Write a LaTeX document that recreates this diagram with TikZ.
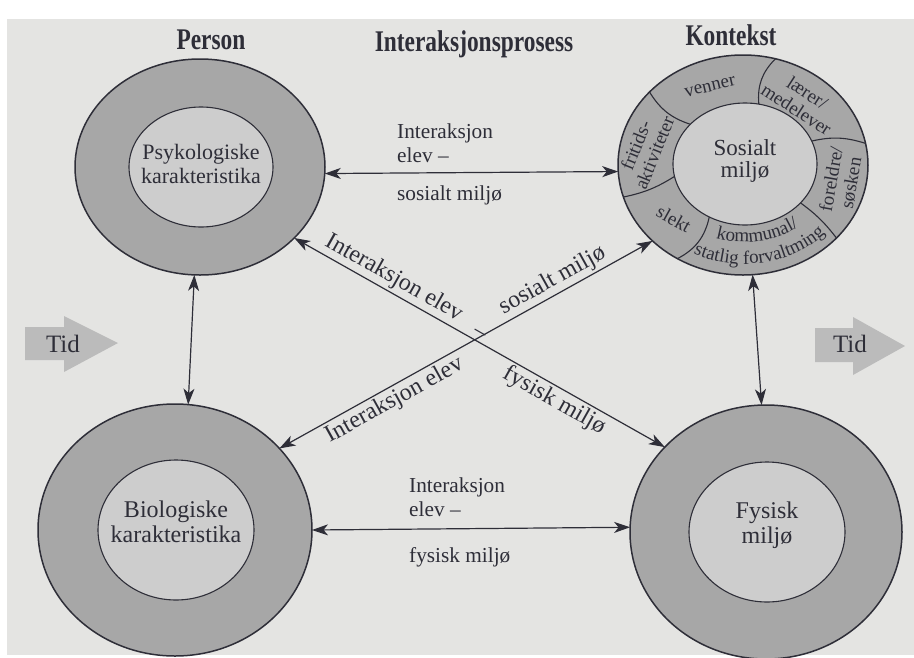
\documentclass[tikz,border=0pt]{standalone}
\usepackage{fontspec}
\setmainfont{Liberation Serif}
\newfontfamily\titlefont[FakeStretch=0.78]{Liberation Serif}
\usetikzlibrary{arrows.meta,shapes.geometric,decorations.text,calc}
\definecolor{pagebg}{HTML}{E4E4E2}
\definecolor{ring}{HTML}{A7A7A7}
\definecolor{core}{HTML}{CDCDCD}
\definecolor{ink}{HTML}{2E2E38}
\definecolor{tidgray}{HTML}{BBBBBB}
\newcommand\segsize{\fontsize{19}{20}\selectfont}
\begin{document}
\begin{tikzpicture}[x=1pt,y=-1pt,
  outerring/.style={ellipse, draw=ink, line width=1.5pt, fill=ring, inner sep=0pt, outer sep=0pt},
  innercore/.style={ellipse, draw=ink, line width=1.1pt, fill=core, inner sep=0pt, outer sep=0pt},
  conn/.style={draw=ink, line width=1.2pt, {Stealth[length=16pt,width=11pt,inset=4.5pt]}-{Stealth[length=16pt,width=11pt,inset=4.5pt]}},
  segline/.style={draw=ink, line width=1.1pt},
  maintext/.style={align=center, inner sep=0pt, text=ink},
  midtext/.style={align=left, inner sep=0pt, text=ink, font=\fontsize{21.3}{24}\selectfont},
  diagtext/.style={inner sep=2.5pt, text=ink, font=\fontsize{24}{26}\selectfont},
  seglbl/.style={align=center, inner sep=0pt, text=ink, font=\segsize},
  titletext/.style={inner sep=0pt, text=ink, anchor=base, font={\titlefont\bfseries\fontsize{30}{32}\selectfont}},
  tidtext/.style={inner sep=0pt, text=ink, anchor=base, font=\fontsize{25}{27}\selectfont},
  tidarrow/.style={fill=tidgray, draw=none}
]
\useasboundingbox (0,0) rectangle (914,657);
\fill[white] (0,0) rectangle (914,657);
\fill[pagebg] (7,19) rectangle (914,655);

% time arrows
\fill[tidarrow] (25,327) -- (64,327) -- (64,316) -- (118,343) -- (64,372) -- (64,360) -- (25,360) -- cycle;
\fill[tidarrow] (815,328) -- (853,328) -- (853,317) -- (905,346) -- (853,375) -- (853,362) -- (815,362) -- cycle;
\node[tidtext] (tidL) at (63,352) {Tid};
\node[tidtext] (tidR) at (850,352) {Tid};

% titles
\node[titletext] (tPerson) at (211,49.5) {Person};
\node[titletext] (tProc) at (474,51.5) {Interaksjonsprosess};
\node[titletext] (tKont) at (731,45.6) {Kontekst};

% circles
\node[outerring, minimum width=250pt, minimum height=216pt] (psyO) at (200,167) {};
\node[innercore, minimum width=144pt, minimum height=120pt] (psyI) at (201,167) {};
\node[outerring, minimum width=274pt, minimum height=252pt] (bioO) at (175,530) {};
\node[innercore, minimum width=156pt, minimum height=140pt] (bioI) at (176,530) {};
\node[outerring, minimum width=272pt, minimum height=254pt] (fysO) at (766,532) {};
\node[innercore, minimum width=156pt, minimum height=140pt] (fysI) at (767,532) {};
\node[outerring, minimum width=250pt, minimum height=220pt] (socO) at (743,165) {};
\coordinate (socC) at (744,165);

% segment dividers of the social ring (drawn before inner core)
\path (745,164) node[innercore, draw=none, fill=none, minimum width=144pt, minimum height=122pt] (socI) {};
\draw[segline] (socO.73.8) to[bend right=25] (socI.77.6);
\draw[segline] (socO.142.3) to[bend right=20] (socI.144.3);
\draw[segline] (socO.195.2) to[bend right=10] (socI.190.5);
\draw[segline] (socI.236.6) to[bend left=25] (socO.235.9);
\draw[segline] (socI.325.7) to[bend left=8] (socO.322.2);
\draw[segline] (socI.19.4) to[bend left=15] (socO.10.4);
\node[innercore, minimum width=144pt, minimum height=122pt] (socCore) at (745,164) {};

% segment labels
\node[seglbl, rotate=13] (lVenner) at (710,87) {venner};
\node[seglbl, rotate=-33] (lLaerer) at (802,101) {lærer/\\medelever};
\node[seglbl, rotate=68] (lFrit) at (645,149) {fritids-\\aktiviteter};
\node[seglbl, rotate=80] (lForel) at (841,181) {foreldre/\\søsken};
\node[seglbl, rotate=-29] (lSlekt) at (674,219) {slekt};
\path[decorate, decoration={text along path, text align=center,
   text={|\segsize\color{ink}|kommunal/}}]
  ($(socC)+(235:91pt and 77pt)$) arc[start angle=235, end angle=325, x radius=91pt, y radius=77pt];
\path[decorate, decoration={text along path, text align=center,
   text={|\segsize\color{ink}|statlig forvaltming}}]
  ($(socC)+(233:113pt and 99pt)$) arc[start angle=233, end angle=327, x radius=113pt, y radius=99pt];

% core texts
\node[maintext, font=\fontsize{22}{23.5}\selectfont] (psyT) at (201,164) {Psykologiske\\karakteristika};
\node[maintext, font=\fontsize{24}{25}\selectfont] (bioT) at (176,522) {Biologiske\\karakteristika};
\node[maintext, font=\fontsize{24}{25}\selectfont] (fysT) at (767,525) {Fysisk\\miljø};
\node[maintext, font=\fontsize{23}{22}\selectfont] (socT) at (745,160.6) {Sosialt\\miljø};

% horizontal interaction labels
\node[midtext, anchor=north west] (upA) at (397,123.5) {Interaksjon\\elev –};
\node[midtext, anchor=base west] (upB) at (397,200) {sosialt miljø};
\node[midtext, anchor=north west] (loA) at (409,478) {Interaksjon\\elev –};
\node[midtext, anchor=base west] (loB) at (409,562) {fysisk miljø};

% connectors
\draw[conn] (psyO.357.7) -- (socO.183.2);
\draw[conn] (bioO.0.4) -- (fysO.178.7);
\draw[conn] (psyO.267.4) -- (bioO.84.1);
\draw[conn] (socO.275.2) -- (fysO.92.7);
\draw[conn] (psyO.323.2) --
  node[diagtext, sloped, above, pos=.25] (dA) {Interaksjon elev}
  node[diagtext, sloped, above, pos=.49] (dDash) {–}
  node[diagtext, sloped, below, pos=.72] (dB) {fysisk miljø}
  (fysO.140.8);
\draw[conn] (bioO.38.2) --
  node[diagtext, sloped, below, pos=.29] (dC) {Interaksjon elev}
  node[diagtext, sloped, above, pos=.75] (dD) {sosialt miljø}
  (socO.220.6);
\end{tikzpicture}
\end{document}
